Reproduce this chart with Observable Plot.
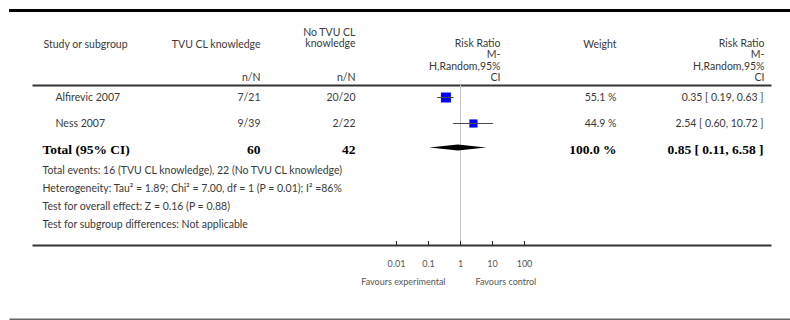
<!DOCTYPE html>
<html>
<head>
<meta charset="utf-8">
<script src="https://cdn.jsdelivr.net/npm/d3@7"></script>
<script src="https://cdn.jsdelivr.net/npm/@observablehq/plot@0.6"></script>
<style>
  html, body { margin: 0; padding: 0; background: #fff; }
  #chart svg { display: block; }
</style>
</head>
<body>
<div id="chart"></div>
<script>
// Individual studies
const studies = ["Alfirevic 2007", "Ness 2007"];
const expEvents = [7, 9];
const expTotal = [21, 39];
const ctrlEvents = [20, 2];
const ctrlTotal = [20, 22];
const riskRatio = [0.35, 2.54];
const ciLower = [0.19, 0.60];
const ciUpper = [0.63, 10.72];
const weights = [55.1, 44.9];

// Pooled (random-effects) estimate
const pooledLabel = "Total (95% CI)";
const pooledExpTotal = 60;
const pooledCtrlTotal = 42;
const pooledRR = 0.85;
const pooledLower = 0.11;
const pooledUpper = 6.58;
const pooledWeight = 100.0;

const footnotes = [
  "Total events: 16 (TVU CL knowledge), 22 (No TVU CL knowledge)",
  "Heterogeneity: Tau² = 1.89; Chi² = 7.00, df = 1 (P = 0.01); I² =86%",
  "Test for overall effect: Z = 0.16 (P = 0.88)",
  "Test for subgroup differences: Not applicable"
];

const axisTicks = [0.01, 0.1, 1, 10, 100];
const axisTickLabels = ["0.01", "0.1", "1", "10", "100"];

const fmtCI = (m, l, u) => `${m.toFixed(2)} [ ${l.toFixed(2)}, ${u.toFixed(2)} ]`;

const rows = studies.map((study, i) => ({
  study,
  exp: `${expEvents[i]}/${expTotal[i]}`,
  ctrl: `${ctrlEvents[i]}/${ctrlTotal[i]}`,
  rr: riskRatio[i],
  lower: ciLower[i],
  upper: ciUpper[i],
  weight: weights[i],
  weightLabel: `${weights[i].toFixed(1)} %`,
  ciLabel: fmtCI(riskRatio[i], ciLower[i], ciUpper[i])
}));

const pooled = {
  study: pooledLabel,
  exp: String(pooledExpTotal),
  ctrl: String(pooledCtrlTotal),
  rr: pooledRR,
  lower: pooledLower,
  upper: pooledUpper,
  weightLabel: `${pooledWeight.toFixed(1)} %`,
  ciLabel: fmtCI(pooledRR, pooledLower, pooledUpper)
};

const M = {top: 85, right: 20, bottom: 75, left: 33};
const plain = {fontFamily: "Lato", fontSize: 10.5, fill: "#3a3a3a", lineAnchor: "middle"};
const bold = {fontFamily: "Liberation Serif", fontWeight: "bold", fontSize: 13.5, fill: "#000", lineAnchor: "middle"};

// text placed relative to the top-left corner of the plotting frame
const fixedText = (t, x, y, anchor = "end", style = plain) =>
  Plot.text([t], {text: d => d, frameAnchor: "top-left", dx: x - M.left, dy: y - M.top, textAnchor: anchor, ...style});

const headerLines = (lines, x, ys, anchor = "end") =>
  lines.map((t, i) => fixedText(t, x, ys[i], anchor));

// column text bound to the row scale
const column = (data, key, x, anchor, style) =>
  Plot.text(data, {y: "study", text: key, frameAnchor: "left", dx: x - M.left, textAnchor: anchor, ...style});

const chart = Plot.plot({
  width: 790,
  height: 320,
  marginTop: M.top,
  marginRight: M.right,
  marginBottom: M.bottom,
  marginLeft: M.left,
  style: {fontFamily: "Lato", fontSize: "10px", background: "#fff"},
  x: {type: "log", domain: [0.01, 100], range: [396, 524]},
  y: {type: "point", domain: [...studies, pooledLabel], range: [96, 149.5], padding: 0, axis: null},
  r: {type: "linear", domain: [0, 55.1], range: [0, 5.64]},
  marks: [
    // table rules
    Plot.frame({anchor: "top", insetTop: -75, insetLeft: -23, insetRight: -20, stroke: "#000", strokeWidth: 3}),
    Plot.frame({anchor: "top", stroke: "#333", strokeWidth: 2}),
    Plot.frame({anchor: "bottom", stroke: "#333", strokeWidth: 2}),
    Plot.frame({anchor: "bottom", insetBottom: -74, insetLeft: -23, insetRight: -20, stroke: "#666", strokeWidth: 2}),

    // line of no effect and axis
    Plot.ruleX([1], {stroke: "#c4c4c4", strokeWidth: 1}),
    Plot.ruleX(axisTicks, {insetTop: 156, stroke: "#222", strokeWidth: 1}),
    Plot.axisX(axisTicks, {
      tickSize: 0, tickPadding: 15, fontSize: 9, fill: "#555", label: null,
      tickFormat: d => axisTickLabels[axisTicks.indexOf(d)]
    }),
    Plot.text(["Favours experimental"], {x: [1], text: d => d, frameAnchor: "bottom", dx: -15, dy: 37, textAnchor: "end", fontFamily: "Lato", fontSize: 9, fill: "#555", lineAnchor: "middle"}),
    Plot.text(["Favours control"], {x: [1], text: d => d, frameAnchor: "bottom", dx: 15, dy: 37, textAnchor: "start", fontFamily: "Lato", fontSize: 9, fill: "#555", lineAnchor: "middle"}),

    // study estimates and confidence intervals
    Plot.dot(rows, {x: "rr", y: "study", r: "weight", symbol: "square", fill: "#0000ff"}),
    Plot.ruleY(rows, {y: "study", x1: "lower", x2: "upper", stroke: "#4a4a4a", strokeWidth: 1}),

    // pooled estimate diamond
    Plot.dot([pooled], {
      x: "rr", y: "study",
      render(index, scales) {
        const yc = scales.y(pooled.study) - 1.5;
        const xl = scales.x(pooled.lower), xm = scales.x(pooled.rr), xu = scales.x(pooled.upper);
        return d3.create("svg:path")
          .attr("d", `M${xl},${yc}L${xm},${yc - 3}L${xu},${yc}L${xm},${yc + 3}Z`)
          .attr("fill", "#000")
          .node();
      }
    }),

    // header
    fixedText("Study or subgroup", 43, 44, "start"),
    fixedText("TVU CL knowledge", 260, 44),
    ...headerLines(["No TVU CL", "knowledge"], 355, [32.5, 43.5]),
    fixedText("n/N", 260, 77),
    fixedText("n/N", 355, 77),
    ...headerLines(["Risk Ratio", "M-", "H,Random,95%", "CI"], 500, [43, 54.3, 65.7, 77]),
    fixedText("Weight", 616, 44),
    ...headerLines(["Risk Ratio", "M-", "H,Random,95%", "CI"], 764, [43, 54.3, 65.7, 77]),

    // study rows
    column(rows, "study", 55, "start", plain),
    column(rows, "exp", 260, "end", plain),
    column(rows, "ctrl", 355, "end", plain),
    column(rows, "weightLabel", 616, "end", plain),
    column(rows, "ciLabel", 763, "end", plain),

    // pooled row
    column([pooled], "study", 42, "start", bold),
    column([pooled], "exp", 260, "end", bold),
    column([pooled], "ctrl", 355, "end", bold),
    column([pooled], "weightLabel", 616, "end", bold),
    column([pooled], "ciLabel", 763, "end", bold),

    // footnotes
    ...footnotes.map((t, i) => fixedText(t, 42, 170 + i * 18, "start"))
  ]
});

document.getElementById("chart").appendChild(chart);
</script>
</body>
</html>
